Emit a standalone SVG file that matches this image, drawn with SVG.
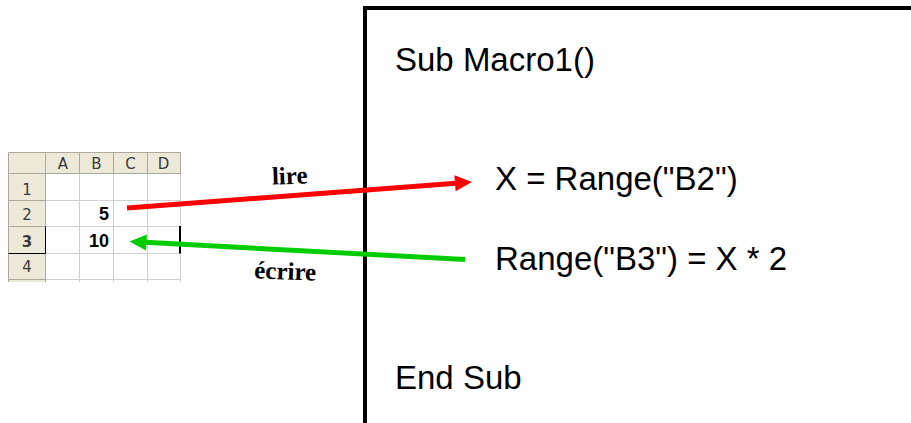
<svg xmlns="http://www.w3.org/2000/svg" width="911" height="423" viewBox="0 0 911 423">
  <style>
    .hdr { fill: #ECE9D8; }
    .grid { stroke: #D0D0D0; stroke-width: 1; fill: none; }
    .hline { stroke: #ACA899; stroke-width: 1; fill: none; }
    .htxt { font-family: "DejaVu Sans", "Liberation Sans", sans-serif; font-size: 15px; fill: #3A3A3A; text-anchor: middle; }
    .val { font-family: "Liberation Sans", Arial, sans-serif; font-size: 18px; font-weight: bold; fill: #000000; text-anchor: end; }
    .code { font-family: "Liberation Sans", Arial, sans-serif; font-size: 33px; fill: #000000; }
    .lbl { font-family: "Liberation Serif", "Times New Roman", serif; font-size: 25px; font-weight: bold; fill: #000000; text-anchor: middle; }
  </style>
  <rect width="911" height="423" fill="#FFFFFF"/>

  <g id="spreadsheet">
    <!-- header backgrounds -->
    <rect class="hdr" x="8.5" y="152.5" width="171.5" height="21"/>
    <rect class="hdr" x="8.5" y="152.5" width="36.5" height="129.5"/>
    <!-- cell gridlines -->
    <g class="grid">
      <line x1="45" y1="200.5" x2="180" y2="200.5"/>
      <line x1="45" y1="226.5" x2="180" y2="226.5"/>
      <line x1="45" y1="253.5" x2="180" y2="253.5"/>
      <line x1="45" y1="279.5" x2="180" y2="279.5"/>
      <line x1="79.5" y1="173.5" x2="79.5" y2="282"/>
      <line x1="113.5" y1="173.5" x2="113.5" y2="282"/>
      <line x1="147.5" y1="173.5" x2="147.5" y2="282"/>
      <line x1="180.5" y1="173.5" x2="180.5" y2="282"/>
    </g>
    <!-- header lines -->
    <g class="hline">
      <line x1="8.5" y1="152.5" x2="180.5" y2="152.5"/>
      <line x1="8.5" y1="152.5" x2="8.5" y2="282"/>
      <line x1="8.5" y1="173.5" x2="180.5" y2="173.5"/>
      <line x1="45.5" y1="152.5" x2="45.5" y2="282"/>
      <line x1="79.5" y1="152.5" x2="79.5" y2="173.5"/>
      <line x1="113.5" y1="152.5" x2="113.5" y2="173.5"/>
      <line x1="147.5" y1="152.5" x2="147.5" y2="173.5"/>
      <line x1="180.5" y1="152.5" x2="180.5" y2="173.5"/>
      <line x1="8.5" y1="200.5" x2="45.5" y2="200.5"/>
      <line x1="8.5" y1="226.5" x2="45.5" y2="226.5"/>
      <line x1="8.5" y1="279.5" x2="45.5" y2="279.5"/>
    </g>
    <!-- selected row 3 header border -->
    <line x1="8.5" y1="253.5" x2="45.5" y2="253.5" stroke="#000000" stroke-width="1"/>
    <line x1="45.5" y1="226.5" x2="45.5" y2="253.5" stroke="#000000" stroke-width="1"/>
    <!-- active cell edge -->
    <line x1="180" y1="226" x2="180" y2="253.5" stroke="#000000" stroke-width="2"/>
    <!-- header texts -->
    <text class="htxt" x="63" y="169">A</text>
    <text class="htxt" x="96.5" y="169">B</text>
    <text class="htxt" x="130.5" y="169">C</text>
    <text class="htxt" x="163.5" y="169">D</text>
    <text class="htxt" x="27" y="194.5">1</text>
    <text class="htxt" x="27" y="220">2</text>
    <text class="htxt" x="27" y="246.5" font-weight="bold" fill="#000000">3</text>
    <text class="htxt" x="27" y="272">4</text>
    <!-- values -->
    <text class="val" x="109" y="220">5</text>
    <text class="val" x="109" y="246.5">10</text>
  </g>

  <g id="code-box">
    <rect x="365" y="8" width="620" height="480" fill="none" stroke="#000000" stroke-width="4"/>
    <text class="code" x="395" y="71">Sub Macro1()</text>
    <text class="code" x="495" y="189.5">X = Range("B2")</text>
    <text class="code" x="495" y="270">Range("B3") = X * 2</text>
    <text class="code" x="395" y="388.5">End Sub</text>
  </g>

  <g id="connectors">
    <g id="arrow-lire">
      <line x1="127" y1="208" x2="456" y2="183.2" stroke="#FF0000" stroke-width="5"/>
      <polygon points="472,182 455.6,191.3 454.4,175.3" fill="#FF0000"/>
    </g>
    <g id="arrow-ecrire">
      <line x1="465" y1="259.5" x2="145.5" y2="242.3" stroke="#00CC00" stroke-width="5"/>
      <polygon points="129.5,241.5 146.9,234.4 146.1,250.4" fill="#00CC00"/>
    </g>
  </g>

  <g id="labels">
    <text class="lbl" x="290" y="184" transform="rotate(-2 290 184)">lire</text>
    <text class="lbl" x="285" y="279.5" transform="rotate(2.2 285 279.5)">écrire</text>
  </g>
</svg>
